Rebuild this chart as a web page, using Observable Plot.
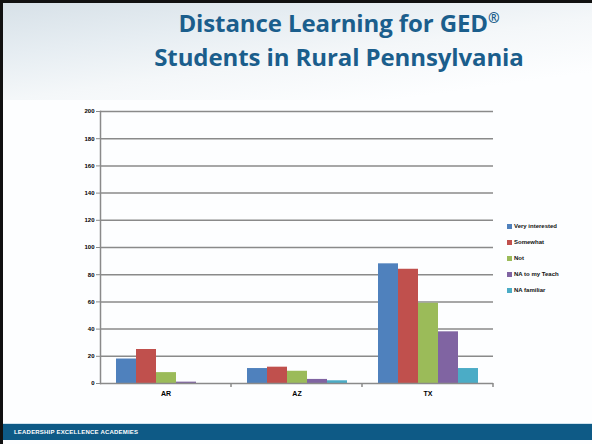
<!DOCTYPE html>
<html><head><meta charset="utf-8">
<script src="https://cdn.jsdelivr.net/npm/d3@7"></script>
<script src="https://cdn.jsdelivr.net/npm/@observablehq/plot@0.6"></script>
<style>
html,body{margin:0;padding:0;background:#fff;}
#slide{position:relative;width:592px;height:444px;overflow:hidden;background:#fdfeff;font-family:"Open Sans",sans-serif;}
#bgswoosh{position:absolute;left:0;top:0;width:592px;height:100px;background:linear-gradient(172deg,#d6e0e7 0%,#e6edf2 30%,#f4f7f9 55%,#fdfeff 85%);}
#bl{position:absolute;left:0;top:0;width:3px;height:444px;background:#111;}
#bt{position:absolute;left:0;top:0;width:592px;height:3px;background:#111;}
#title{position:absolute;left:89px;width:500px;top:6px;text-align:center;color:#1b5e8c;font-weight:bold;font-size:24px;line-height:34px;letter-spacing:-0.1px;}
#title sup{font-size:14px;line-height:0;vertical-align:9px;}
#chart{position:absolute;left:0;top:100px;}
#legend{position:absolute;left:507px;top:218px;font-family:"Liberation Sans",sans-serif;font-weight:bold;font-size:6px;color:#111;}
#legend div{height:16px;display:flex;align-items:center;white-space:nowrap;}
#legend span.sw{display:inline-block;width:5px;height:5px;margin-right:2px;}
#band{position:absolute;left:3px;top:423px;width:589px;height:17px;background:#0e5a86;border-top:1px solid #cfe3ee;color:#fff;font-family:"Liberation Sans",sans-serif;font-weight:bold;font-size:6px;line-height:17px;padding-left:11px;box-sizing:border-box;letter-spacing:0.2px;}
</style></head>
<body>
<div id="slide">
  <div id="bgswoosh"></div>
  <div id="bl"></div><div id="bt"></div>
  <div id="title">Distance Learning for GED<sup>®</sup><br>Students in Rural Pennsylvania</div>
  <div id="chart"></div>
  <div id="legend"></div>
  <div id="band">LEADERSHIP EXCELLENCE ACADEMIES</div>
</div>
<script>
const categories = ["AR", "AZ", "TX"];
const series = ["Very interested", "Somewhat", "Not", "NA to my Teach", "NA familiar"];
const veryInterested = [18, 11, 88];
const somewhat = [25, 12, 84];
const notInterested = [8, 9, 59];
const naToMyTeach = [1, 3, 38];
const naFamiliar = [0, 2, 11];
const yTicks = [0, 20, 40, 60, 80, 100, 120, 140, 160, 180, 200];
const colors = ["#4F81BD", "#C0504D", "#9BBB59", "#8064A2", "#4BACC6"];

const seriesValues = [veryInterested, somewhat, notInterested, naToMyTeach, naFamiliar];
const data = categories.flatMap((c, i) => series.map((s, j) => ({category: c, series: s, value: seriesValues[j][i]})));

const sepTicks = (index, scales, values, dim) => {
  const g = d3.create("svg:g");
  const x = dim.width - dim.marginRight;
  const y = dim.height - dim.marginBottom;
  g.append("line").attr("x1", x).attr("x2", x).attr("y1", y).attr("y2", y + 4)
    .attr("stroke", "#8a8a8a").attr("stroke-width", 1.5);
  return g.node();
};

const chart = Plot.plot({
  width: 592, height: 310,
  marginLeft: 99, marginRight: 98, marginTop: 11, marginBottom: 27,
  style: {background: "transparent", fontFamily: "Liberation Sans", fontSize: "6px", fontWeight: "bold", color: "#000"},
  fx: {domain: categories, padding: 0, label: null, axis: null},
  x: {domain: series, paddingInner: 0, paddingOuter: 0.63, axis: null},
  y: {domain: [0, 200], label: null},
  color: {domain: series, range: colors},
  marks: [
    Plot.gridY(yTicks.slice(1), {stroke: "#8a8a8a", strokeOpacity: 1, strokeWidth: 1.5}),
    Plot.barY(data, {fx: "category", x: "series", y: "value", fill: "series"}),
    Plot.ruleY([0], {stroke: "#8a8a8a", strokeWidth: 1.5}),
    Plot.frame({anchor: "left", facetAnchor: "left", stroke: "#8a8a8a", strokeWidth: 1.5}),
    Plot.axisY(yTicks, {tickSize: 4, tickPadding: 2, stroke: "#8a8a8a", fill: "#000", label: null}),
    Plot.axisFx({anchor: "bottom", tickSize: 0, tickPadding: 8, label: null, fill: "#000", fontSize: 7}),
    sepTicks
  ]
});
document.getElementById("chart").append(chart);

const legend = d3.select("#legend");
series.forEach((s, i) => {
  const row = legend.append("div");
  row.append("span").attr("class", "sw").style("background", colors[i]);
  row.append("span").text(s);
});
</script>
</body></html>
